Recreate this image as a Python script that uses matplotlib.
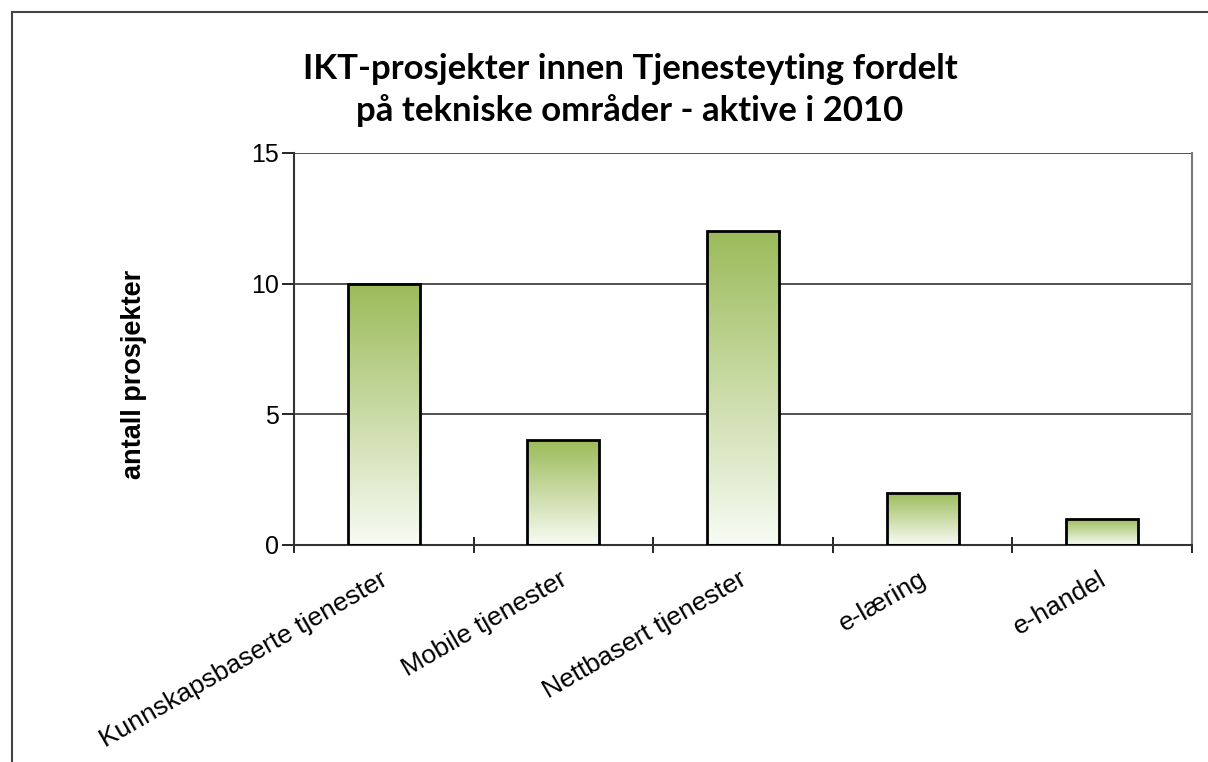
import numpy as np
import matplotlib.pyplot as plt
from matplotlib.lines import Line2D
from matplotlib.colors import LinearSegmentedColormap
from matplotlib import transforms

categories = ['Kunnskapsbaserte tjenester', 'Mobile tjenester',
              'Nettbasert tjenester', 'e-læring', 'e-handel']
values = [10, 4, 12, 2, 1]
yticks = [0, 5, 10, 15]

title = 'IKT-prosjekter innen Tjenesteyting fordelt\npå tekniske områder - aktive i 2010'
ylabel = 'antall prosjekter'

plt.rcParams['font.family'] = ['Liberation Sans', 'DejaVu Sans']

fig = plt.figure(figsize=(12.08, 7.62), dpi=100)
ax = fig.add_axes([294/1208, 1-545/762, (1192-294)/1208, (545-153)/762])

# outer chart frame
fig.add_artist(Line2D([12/1208, 12/1208], [0, 1-12/762], transform=fig.transFigure,
                      color='#444444', lw=1.5))
fig.add_artist(Line2D([12/1208, 1], [1-12/762, 1-12/762], transform=fig.transFigure,
                      color='#444444', lw=1.5))

x = np.arange(len(categories))
bars = ax.bar(x, values, width=0.4, facecolor='none', edgecolor='black', lw=2, zorder=3)

# vertical green gradient inside each bar
cmap = LinearSegmentedColormap.from_list('grn', ['#f8fbf4', '#9bbb59'])
grad = np.linspace(0, 1, 256).reshape(-1, 1)
for b in bars:
    x0, w, h = b.get_x(), b.get_width(), b.get_height()
    im = ax.imshow(grad, cmap=cmap, origin='lower', aspect='auto',
                   extent=[x0, x0 + w, 0, h], zorder=2)
    im.set_clip_path(b)

ax.set_xlim(-0.5, len(categories) - 0.5)
ax.set_ylim(0, 15)
ax.set_yticks(yticks)
ax.grid(axis='y', color='#333333', lw=1.2, zorder=1)
ax.set_axisbelow(True)

# category labels: rotated, right end sitting under the category centre
ax.set_xticks([])
offset = transforms.ScaledTranslation(-4/100, -22/100, fig.dpi_scale_trans)
for xi, name in zip(x, categories):
    ax.text(xi, 0, name, transform=ax.get_xaxis_transform() + offset,
            rotation=30, ha='right', va='top', rotation_mode='anchor', fontsize=19)

ax.set_xticks(np.arange(-0.5, len(categories)), minor=True)
ax.tick_params(axis='x', which='minor', direction='inout', length=12, width=1.2)
ax.tick_params(axis='y', direction='out', length=9, width=1.2, labelsize=18, pad=2)

for s in ['left', 'bottom']:
    ax.spines[s].set_linewidth(1.5)
    ax.spines[s].set_color('#333333')
ax.spines['top'].set_visible(False)
ax.spines['right'].set_color('#777777')
ax.spines['right'].set_linewidth(1.5)

fig.text(134/1208, 1-374/762, ylabel, rotation=90, ha='center', va='center',
         fontsize=19.5, fontweight='bold')
fig.text(630/1208, 1-90/762, title, ha='center', va='center', fontsize=25,
         fontweight='bold', family=['Lato', 'DejaVu Sans'], linespacing=1.3)

fig.savefig('out.png', dpi=100, facecolor='white')
